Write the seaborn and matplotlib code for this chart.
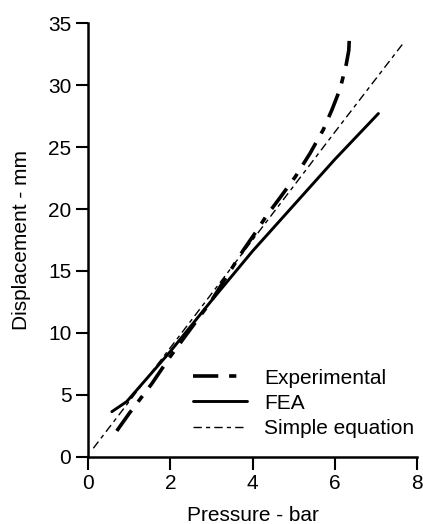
import pandas as pd
import matplotlib
matplotlib.use("Agg")
import matplotlib.pyplot as plt
import seaborn as sns

sns.set_style("ticks")
plt.rcParams['font.family'] = ['Liberation Sans', 'DejaVu Sans']
plt.rcParams['text.color'] = 'black'
plt.rcParams['axes.labelcolor'] = 'black'
plt.rcParams['xtick.color'] = 'black'
plt.rcParams['ytick.color'] = 'black'

# values
exp_p = [0.70, 1.0, 1.55, 2.0, 3.0, 3.78, 4.03, 4.35, 4.71, 5.04, 5.40, 5.72,
         5.93, 6.13, 6.28, 6.34, 6.36]
exp_d = [2.1, 3.5, 5.9, 8.1, 12.6, 16.7, 17.9, 19.5, 21.1, 22.6, 24.5, 26.4,
         28.0, 29.7, 31.7, 32.8, 34.3]

fea_p = [0.58, 0.94, 2.0, 3.0, 4.0, 5.0, 6.0, 7.06]
fea_d = [3.65, 4.46, 8.5, 12.6, 16.6, 20.3, 24.0, 27.7]

simple_p = [0.13, 2.0, 4.0, 6.0, 7.67]
simple_d = [0.7, 8.8, 17.5, 26.2, 33.4]

fig = plt.figure(figsize=(4.23, 5.24), dpi=100)
ax = fig.add_axes([0.208, 0.128, 0.778, 0.828])

sns.lineplot(x=exp_p, y=exp_d, ax=ax, color='black', lw=2.6, sort=False,
             linestyle=(0, (7, 3, 2, 3)), label='Experimental')
sns.lineplot(x=fea_p, y=fea_d, ax=ax, color='black', lw=2.1, sort=False,
             label='FEA')
sns.lineplot(x=simple_p, y=simple_d, ax=ax, color='black', lw=1.0, sort=False,
             linestyle=(0, (6, 3, 3, 3)), label='Simple equation')

ax.set_xlim(0, 8)
ax.set_ylim(0, 35)
ax.set_xticks([0, 2, 4, 6, 8])
ax.set_yticks([0, 5, 10, 15, 20, 25, 30, 35])
ax.set_xlabel('Pressure - bar', fontsize=15, labelpad=10)
ax.set_ylabel('Displacement - mm', fontsize=15, labelpad=12)
ax.tick_params(axis='both', labelsize=15, length=9, width=1.5, color='black', pad=3)
for s in ['left', 'bottom']:
    ax.spines[s].set_linewidth(1.8)
    ax.spines[s].set_color('black')
sns.despine(ax=ax)

ax.legend(loc='lower right', bbox_to_anchor=(1.035, 0.01), frameon=False,
          fontsize=15, handlelength=2.6, handletextpad=0.8, labelspacing=0.3,
          borderaxespad=0.3)

fig.savefig('out.png', dpi=100)
